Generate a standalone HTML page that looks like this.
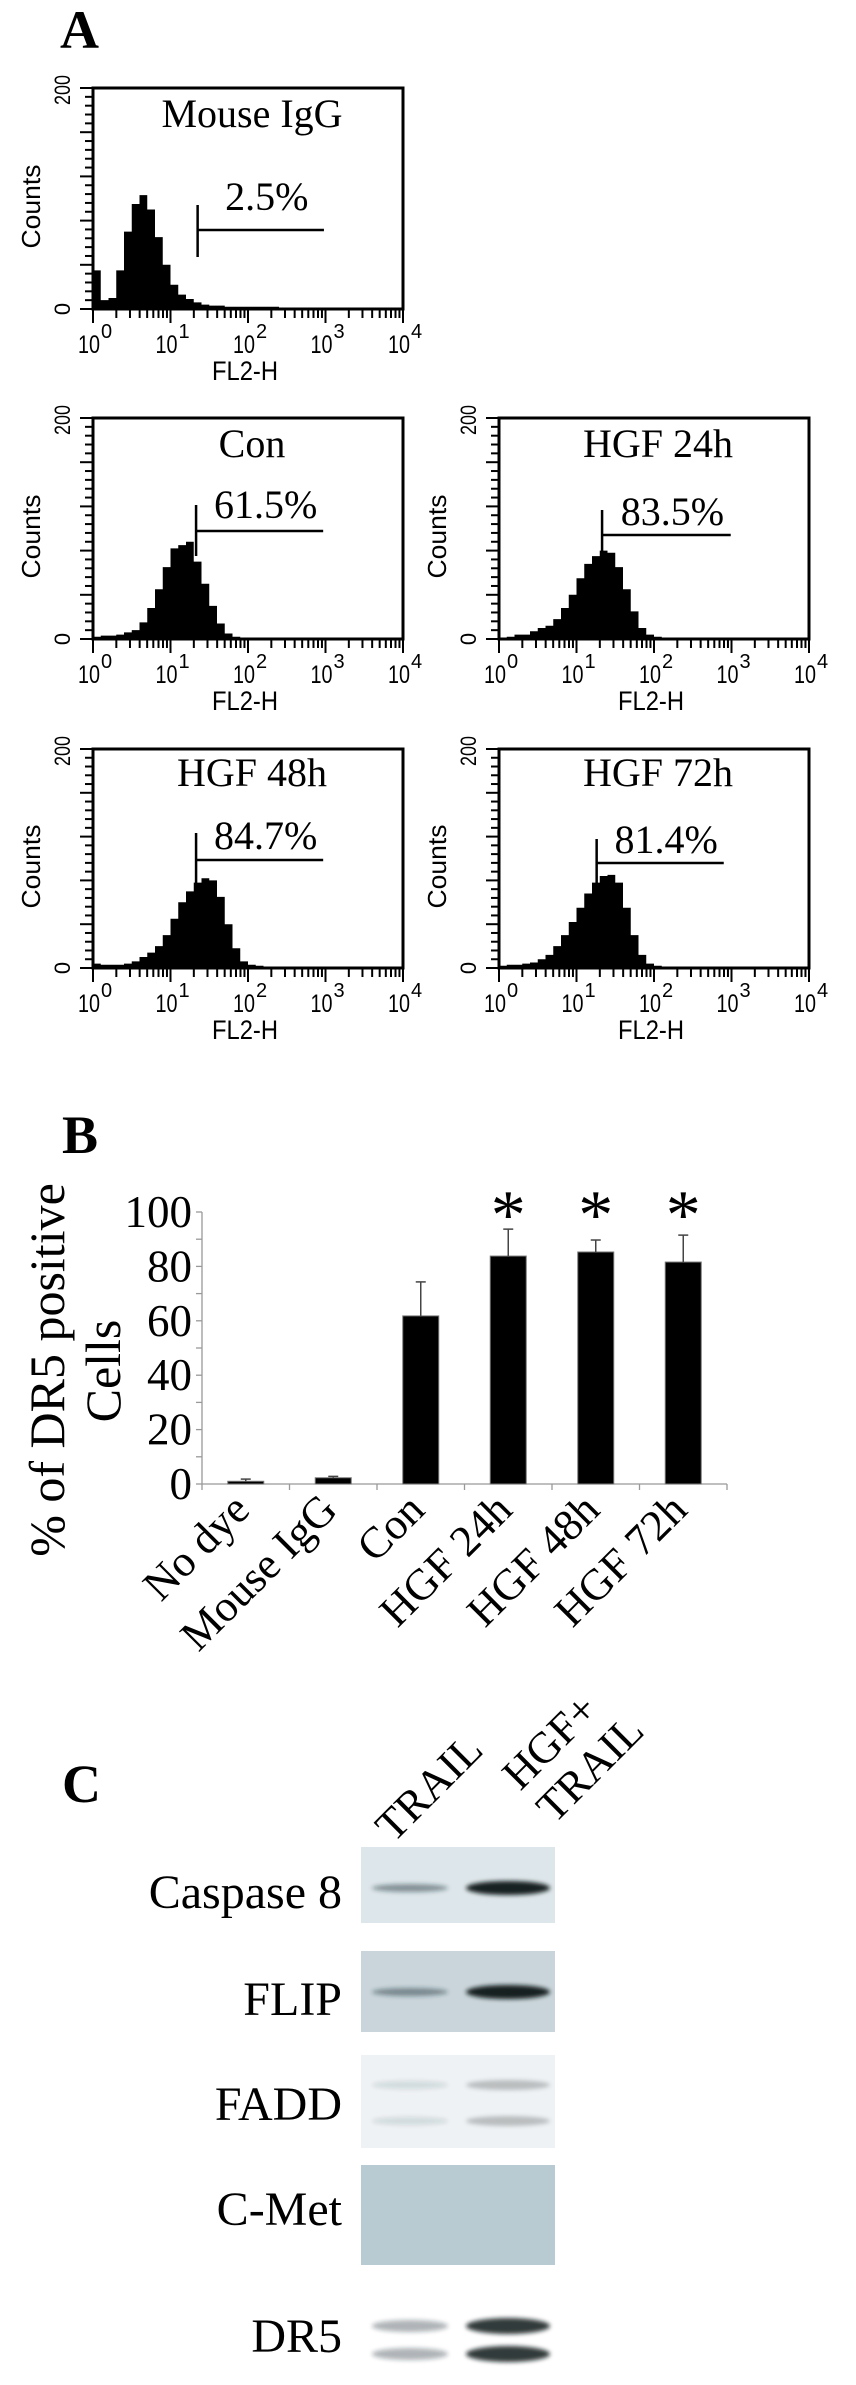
<!DOCTYPE html>
<html><head><meta charset="utf-8"><style>
html,body{margin:0;padding:0;background:#fff;}
svg{display:block;}
.serif{font-family:"Liberation Serif",serif;}
.sans{font-family:"Liberation Sans",sans-serif;}
</style></head><body>
<svg id="fig" width="856" height="2385" viewBox="0 0 856 2385" xmlns="http://www.w3.org/2000/svg">
<defs>
<filter id="blur2" x="-20%" y="-200%" width="140%" height="500%"><feGaussianBlur stdDeviation="2"/></filter>
</defs>
<text class="serif" x="60" y="48" font-size="54" font-weight="bold">A</text>
<text class="serif" x="62" y="1153" font-size="54" font-weight="bold">B</text>
<text class="serif" x="62" y="1802" font-size="54" font-weight="bold">C</text>
<g id="flow"></g>
<g id="bar"></g>
<g id="blot"></g>
</svg>
<script>
// ---------- Panel A data (counts per 0.1-decade bin, 10^0..10^4) ----------
const histMouseIgG = [35,8,10,35,70,95,103,90,65,40,22,13,9,6,4,3,3,2,2,2,2,2,2,2,1,1,1,1,1,1,0,0,0,0,0,0,0,0,0,0];
const histCon = [2,3,3,4,6,8,15,28,45,65,82,85,88,70,50,30,14,5,2,1,1,0,0,0,0,0,0,0,0,0,0,0,0,0,0,0,0,0,0,0];
const histHGF24 = [0,2,4,4,7,10,12,18,28,40,55,68,75,80,78,65,45,25,10,4,2,1,1,1,0,0,0,0,0,0,0,0,0,0,0,0,0,0,0,0];
const histHGF48 = [4,3,3,3,4,6,10,14,20,30,45,60,70,78,82,80,65,40,18,6,3,2,1,0,0,0,0,0,0,0,0,0,0,0,0,0,0,0,0,0];
const histHGF72 = [2,3,3,4,5,8,12,20,30,42,55,68,78,84,85,78,55,30,12,4,2,1,1,0,0,0,0,0,0,0,0,0,0,0,0,0,0,0,0,0];
const panelTitles = ["Mouse IgG","Con","HGF 24h","HGF 48h","HGF 72h"];
const panelPercents = ["2.5%","61.5%","83.5%","84.7%","81.4%"];
const gateLogs = [1.35,1.33,1.33,1.33,1.26];
const gateEndLogs = [2.98,2.97,2.99,2.97,2.90];
const xTickExps = ["0","1","2","3","4"];

// ---------- Panel B data ----------
const categories = ["No dye","Mouse IgG","Con","HGF 24h","HGF 48h","HGF 72h"];
const values = [1.0,2.3,61.8,83.8,85.3,81.6];
const errors = [0.8,0.5,12.5,9.9,4.4,9.9];
const significant = [false,false,false,true,true,true];
const yTicks = [0,20,40,60,80,100];

// ---------- Panel C data ----------
const blotNames = ["Caspase 8","FLIP","FADD","C-Met","DR5"];
const lane1Intensity = [0.45,0.45,0.12,0,0.35];
const lane2Intensity = [0.95,0.95,0.22,0,0.85];

const NS="http://www.w3.org/2000/svg";
function mk(tag,attrs,parent){const e=document.createElementNS(NS,tag);for(const k in attrs)e.setAttribute(k,attrs[k]);parent.appendChild(e);return e;}

// ---------- Panel A ----------
const flow=document.getElementById('flow');
const panels=[
 {L:93,T:88,B:309,hist:histMouseIgG,tb:127,pb:210,gy1:205,gy2:257,gh:230},
 {L:93,T:418,B:639,hist:histCon,tb:457,pb:518,gy1:505,gy2:556,gh:531},
 {L:499,T:418,B:639,hist:histHGF24,tb:457,pb:525,gy1:510,gy2:552,gh:535},
 {L:93,T:749,B:968,hist:histHGF48,tb:786,pb:849,gy1:833,gy2:886,gh:860},
 {L:499,T:749,B:968,hist:histHGF72,tb:786,pb:853,gy1:839,gy2:888,gh:863}
];
panels.forEach((p,pi)=>{
  const W=310;
  const xs=l=>p.L+l/4*W;
  const ys=c=>p.B-c/200*(p.B-p.T);
  const g=mk('g',{},flow);
  
  
  let d='M'+xs(0)+','+p.B;
  p.hist.forEach((c,i)=>{d+=' L'+xs(i*0.1)+','+ys(c)+' L'+xs((i+1)*0.1)+','+ys(c);});
  d+=' L'+xs(4)+','+p.B+' Z';
  const h=mk('path',{d:d,fill:'#000'},g);
  
  
  const box=mk('rect',{x:p.L,y:p.T,width:W,height:p.B-p.T,fill:'none',stroke:'#000','stroke-width':3},g);
  
  
  for(let k=0;k<=25;k++){const y=ys(k*8);const len=(k%5===0)?13:8;mk('line',{x1:p.L-len,x2:p.L,y1:y,y2:y,stroke:'#000','stroke-width':2},g);}
  for(let dcd=0;dcd<4;dcd++){for(let m=1;m<10;m++){const x=xs(dcd+Math.log10(m));mk('line',{x1:x,x2:x,y1:p.B,y2:p.B+(m===1?14:9),stroke:'#000','stroke-width':2},g);}}
  mk('line',{x1:xs(4),x2:xs(4),y1:p.B,y2:p.B+14,stroke:'#000','stroke-width':2},g);
  xTickExps.forEach((e,i)=>{
    const x=xs(+e);
    const t=mk('text',{x:x-4,y:p.B+44,'font-size':25,'text-anchor':'middle',class:'sans',textLength:22,lengthAdjust:'spacingAndGlyphs'},g);
    t.textContent='10';
    
    
    const s=mk('text',{x:x+8,y:p.B+29,'font-size':20,class:'sans'},g);
    s.textContent=e;
  });
  const xl=mk('text',{x:p.L+152,y:p.B+71,'font-size':27,'text-anchor':'middle',class:'sans',textLength:66,lengthAdjust:'spacingAndGlyphs'},g);
  xl.textContent='FL2-H';
  
  
  const yl=mk('text',{transform:'translate('+(p.L-53)+','+((p.T+p.B)/2+8)+') rotate(-90)','font-size':26,'text-anchor':'middle',class:'sans',textLength:84,lengthAdjust:'spacingAndGlyphs'},g);
  yl.textContent='Counts';
  
  
  const y200=mk('text',{transform:'translate('+(p.L-23)+','+(p.T+2)+') rotate(-90)','font-size':22,'text-anchor':'middle',class:'sans',textLength:30,lengthAdjust:'spacingAndGlyphs'},g);
  y200.textContent='200';
  const y0=mk('text',{transform:'translate('+(p.L-23)+','+(p.B)+') rotate(-90)','font-size':22,'text-anchor':'middle',class:'sans'},g);
  y0.textContent='0';
  const tt=mk('text',{x:p.L+159,y:p.tb,'font-size':40,'text-anchor':'middle',class:'serif'},g);
  tt.textContent=panelTitles[pi];
  
  
  const gx=xs(gateLogs[pi]), gx2=xs(gateEndLogs[pi]);
  mk('line',{x1:gx,x2:gx,y1:p.gy1,y2:p.gy2,stroke:'#000','stroke-width':2.5},g);
  const gl=mk('line',{x1:gx,x2:gx2,y1:p.gh,y2:p.gh,stroke:'#000','stroke-width':2.5},g);
  
  
  const pt=mk('text',{x:(gx+gx2)/2+6,y:p.pb,'font-size':40,'text-anchor':'middle',class:'serif'},g);
  pt.textContent=panelPercents[pi];
  
  
});

// ---------- Panel B ----------
const bar=document.getElementById('bar');
const X0=202, step=87.5, Y0=1484, YH=1212;
const yB=v=>Y0-v/100*(Y0-YH);
const xC=i=>X0+step*(i+0.5);
mk('line',{x1:X0,x2:X0,y1:YH,y2:Y0,stroke:'#999','stroke-width':1.3},bar);
mk('line',{x1:X0,x2:X0+step*categories.length,y1:Y0,y2:Y0,stroke:'#999','stroke-width':1.3},bar);
for(let v=0;v<=100;v+=10){mk('line',{x1:X0-6,x2:X0,y1:yB(v),y2:yB(v),stroke:'#999','stroke-width':1.3},bar);}
yTicks.forEach(v=>{
  const t=mk('text',{x:192,y:yB(v)+15,'font-size':45,'text-anchor':'end',class:'serif'},bar);
  t.textContent=v;
  
  
});
for(let i=0;i<=categories.length;i++){mk('line',{x1:X0+step*i,x2:X0+step*i,y1:Y0,y2:Y0+6,stroke:'#999','stroke-width':1.3},bar);}
const yt1=mk('text',{transform:'translate(64,1370) rotate(-90)','font-size':50,'text-anchor':'middle',class:'serif'},bar);
yt1.textContent='% of DR5 positive';


const yt2=mk('text',{transform:'translate(120,1371) rotate(-90)','font-size':50,'text-anchor':'middle',class:'serif'},bar);
yt2.textContent='Cells';


categories.forEach((c,i)=>{
  const cx=xC(i), bw=36;
  const r=mk('rect',{x:cx-bw/2,y:yB(values[i]),width:bw,height:Y0-yB(values[i]),fill:'#000',stroke:'#777','stroke-width':1},bar);
  
  
  const et=yB(values[i]+errors[i]);
  const e=mk('line',{x1:cx,x2:cx,y1:et,y2:yB(values[i]),stroke:'#444','stroke-width':1.5},bar);
  
  
  mk('line',{x1:cx-5,x2:cx+5,y1:et,y2:et,stroke:'#444','stroke-width':1.5},bar);
  if(significant[i]){
    const s=mk('text',{x:cx,y:1238,'font-size':70,'text-anchor':'middle',class:'serif'},bar);
    s.textContent='*';
    
    
  }
  const lt=mk('text',{transform:'translate('+(cx+6)+',1512) rotate(-45)','font-size':44,'text-anchor':'end',class:'serif'},bar);
  lt.textContent=c;
  
  
});

// ---------- Panel C ----------
const blot=document.getElementById('blot');
const l1=mk('text',{transform:'translate(485,1752) rotate(-45)','font-size':44,'text-anchor':'end',class:'serif'},blot);
l1.textContent='TRAIL';


const l2=mk('text',{transform:'translate(600,1712) rotate(-45)','font-size':44,'text-anchor':'end',class:'serif'},blot);
l2.textContent='HGF+';


const l3=mk('text',{transform:'translate(646,1733) rotate(-45)','font-size':44,'text-anchor':'end',class:'serif'},blot);
l3.textContent='TRAIL';
const blotBoxes=[
 {y:1847,h:76,bg:'#dde6ea',bands:[1888],lbl:1908},
 {y:1951,h:81,bg:'#c9d5da',bands:[1992],lbl:2015},
 {y:2055,h:93,bg:'#eef2f4',bands:[2085,2121],lbl:2120},
 {y:2165,h:100,bg:'#b9cbd2',bands:[],lbl:2225},
 {y:2285,h:86,bg:'#ffffff',bands:[2326,2354],lbl:2352}
];
blotBoxes.forEach((b,i)=>{
  const g=mk('g',{},blot);
  
  
  mk('rect',{x:361,y:b.y,width:194,height:b.h,fill:b.bg},g);
  b.bands.forEach(by=>{
    const a1=lane1Intensity[i], a2=lane2Intensity[i];
    mk('ellipse',{cx:410,cy:by,rx:38,ry:i===4?6:4,fill:'#1a2a30','fill-opacity':a1,filter:'url(#blur2)'},g);
    mk('ellipse',{cx:508,cy:by,rx:42,ry:i===4?8:(i<2?7:5),fill:'#0a1418','fill-opacity':a2,filter:'url(#blur2)'},g);
  });
  const t=mk('text',{x:342,y:b.lbl,'font-size':48,'text-anchor':'end',class:'serif'},g);
  t.textContent=blotNames[i];
  
  
});
</script>
</body></html>
